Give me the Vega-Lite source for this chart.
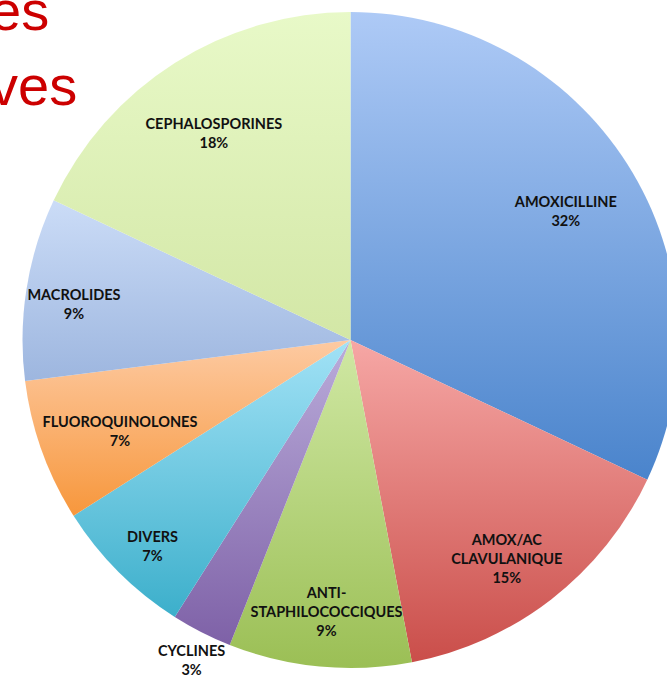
{
  "$schema": "https://vega.github.io/schema/vega-lite/v6.json",
  "width": 633,
  "height": 674,
  "autosize": {"type": "none"},
  "padding": {"left": 34, "top": 3, "right": 0, "bottom": 0},
  "background": "white",
  "title": {
    "text": ["es", "ves"],
    "anchor": "start",
    "frame": "group",
    "orient": "top",
    "offset": -158,
    "dx": -44,
    "font": "'Liberation Sans Narrow', 'Liberation Sans', sans-serif",
    "fontSize": 56,
    "fontWeight": "normal",
    "color": "#cc0000",
    "lineHeight": 75,
    "baseline": "alphabetic"
  },
  "data": {
    "values": [
      {"rank": 1, "name": "AMOXICILLINE", "value": 32, "label": "AMOXICILLINE\n32%"},
      {"rank": 2, "name": "AMOX/AC CLAVULANIQUE", "value": 15, "label": "AMOX/AC\nCLAVULANIQUE\n15%"},
      {"rank": 3, "name": "ANTI-STAPHILOCOCCIQUES", "value": 9, "label": "ANTI-\nSTAPHILOCOCCIQUES\n9%"},
      {"rank": 4, "name": "CYCLINES", "value": 3, "label": "CYCLINES\n3%"},
      {"rank": 5, "name": "DIVERS", "value": 7, "label": "DIVERS\n7%"},
      {"rank": 6, "name": "FLUOROQUINOLONES", "value": 7, "label": "FLUOROQUINOLONES\n7%"},
      {"rank": 7, "name": "MACROLIDES", "value": 9, "label": "MACROLIDES\n9%"},
      {"rank": 8, "name": "CEPHALOSPORINES", "value": 18, "label": "CEPHALOSPORINES\n18%"}
    ]
  },
  "encoding": {
    "theta": {"field": "value", "type": "quantitative", "stack": true},
    "order": {"field": "rank", "type": "quantitative"}
  },
  "layer": [
    {
      "mark": {"type": "arc", "outerRadius": 328},
      "encoding": {
        "fill": {
          "condition": [
            {"test": "datum.name == 'AMOXICILLINE'", "value": {"gradient": "linear", "x1": 0, "y1": 0, "x2": 0, "y2": 1, "stops": [{"offset": 0, "color": "#aecaf6"}, {"offset": 1, "color": "#4a84cc"}]}},
            {"test": "datum.name == 'AMOX/AC CLAVULANIQUE'", "value": {"gradient": "linear", "x1": 0, "y1": 0, "x2": 0, "y2": 1, "stops": [{"offset": 0, "color": "#f6a7a5"}, {"offset": 1, "color": "#ca4e4a"}]}},
            {"test": "datum.name == 'ANTI-STAPHILOCOCCIQUES'", "value": {"gradient": "linear", "x1": 0, "y1": 0, "x2": 0, "y2": 1, "stops": [{"offset": 0, "color": "#d0e8a4"}, {"offset": 1, "color": "#9bbf55"}]}},
            {"test": "datum.name == 'CYCLINES'", "value": {"gradient": "linear", "x1": 0, "y1": 0, "x2": 0, "y2": 1, "stops": [{"offset": 0, "color": "#baacda"}, {"offset": 1, "color": "#7e61a7"}]}},
            {"test": "datum.name == 'DIVERS'", "value": {"gradient": "linear", "x1": 0, "y1": 0, "x2": 0, "y2": 1, "stops": [{"offset": 0, "color": "#a2e2f6"}, {"offset": 1, "color": "#3cafcb"}]}},
            {"test": "datum.name == 'FLUOROQUINOLONES'", "value": {"gradient": "linear", "x1": 0, "y1": 0, "x2": 0, "y2": 1, "stops": [{"offset": 0, "color": "#fdcaa2"}, {"offset": 1, "color": "#f7973c"}]}},
            {"test": "datum.name == 'MACROLIDES'", "value": {"gradient": "linear", "x1": 0, "y1": 0, "x2": 0, "y2": 1, "stops": [{"offset": 0, "color": "#cbdcf7"}, {"offset": 1, "color": "#9db6df"}]}}
          ],
          "value": {"gradient": "linear", "x1": 0, "y1": 0, "x2": 0, "y2": 1, "stops": [{"offset": 0, "color": "#e8f9c8"}, {"offset": 1, "color": "#d3e7a6"}]}
        }
      }
    },
    {
      "mark": {"type": "text", "radius": 255, "font": "Lato", "fontWeight": "bold", "fontSize": 14.5, "lineBreak": "\n", "lineHeight": 19, "color": "#111111", "align": "center", "baseline": "middle"},
      "encoding": {"text": {"condition": {"test": "indexof(['AMOXICILLINE','CEPHALOSPORINES','ANTI-STAPHILOCOCCIQUES','AMOX/AC CLAVULANIQUE'], datum.name) >= 0", "field": "label"}, "value": ""}}
    },
    {
      "mark": {"type": "text", "radius": 245, "font": "Lato", "fontWeight": "bold", "fontSize": 14.5, "lineBreak": "\n", "lineHeight": 19, "color": "#111111", "align": "center", "baseline": "middle"},
      "encoding": {"text": {"condition": {"test": "datum.name == 'FLUOROQUINOLONES'", "field": "label"}, "value": ""}}
    },
    {
      "mark": {"type": "text", "radius": 280, "font": "Lato", "fontWeight": "bold", "fontSize": 14.5, "lineBreak": "\n", "lineHeight": 19, "color": "#111111", "align": "center", "baseline": "middle"},
      "encoding": {"text": {"condition": {"test": "indexof(['DIVERS','MACROLIDES'], datum.name) >= 0", "field": "label"}, "value": ""}}
    },
    {
      "mark": {"type": "text", "radius": 350, "font": "Lato", "fontWeight": "bold", "fontSize": 14.5, "lineBreak": "\n", "lineHeight": 19, "color": "#111111", "align": "center", "baseline": "middle"},
      "encoding": {"text": {"condition": {"test": "datum.name == 'CYCLINES'", "field": "label"}, "value": ""}}
    }
  ]
}
